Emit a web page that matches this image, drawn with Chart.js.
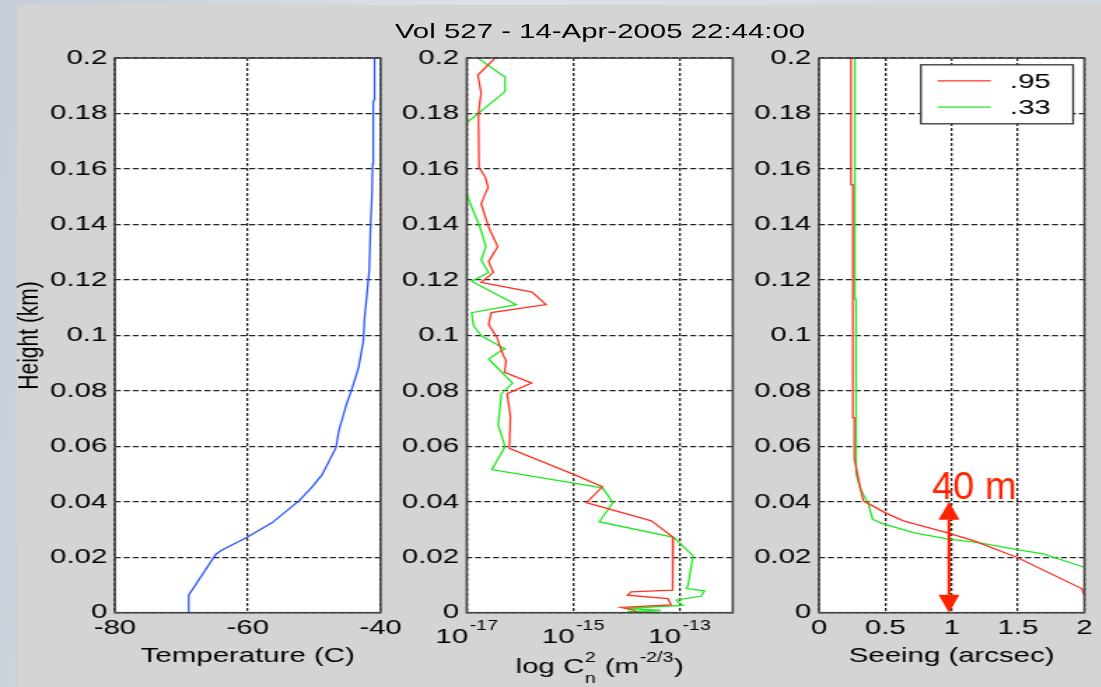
<!DOCTYPE html>
<html>
<head>
<meta charset="utf-8">
<title>Vol 527 - 14-Apr-2005 22:44:00</title>
<script src="https://cdn.jsdelivr.net/npm/chart.js@4.4.1/dist/chart.umd.min.js"></script>
<style>
  html, body { margin: 0; padding: 0; }
  body {
    width: 1101px; height: 687px; overflow: hidden; position: relative;
    background: linear-gradient(100deg, #c6cdd6 0%, #dde2e8 40%, #cfd5dc 100%);
  }
  #fig { position: absolute; left: 17px; top: 5px; width: 1084px; height: 682px; background: #d4d4d4; }
  /* the original figure is stretched sideways, so everything is drawn narrow and widened */
  #stretch { position: absolute; left: 0; top: 0; width: 787px; height: 687px; transform: scaleX(1.4); transform-origin: 0 0; }
  #stretch canvas { position: absolute; top: 40px; }
  #title {
    position: absolute; left: 228.6px; width: 400px; top: 19px; line-height: 26px;
    text-align: center; font: 21px 'Liberation Sans', Arial, sans-serif; color: #000; white-space: nowrap;
  }
</style>
</head>
<body>
<div id="fig"></div>
<div id="stretch">
  <div id="title">Vol 527 - 14-Apr-2005 22:44:00</div>
  <canvas id="tempChart" width="290" height="647" style="left:0px"></canvas>
  <canvas id="cn2Chart" width="260" height="647" style="left:280px"></canvas>
  <canvas id="seeingChart" width="257" height="647" style="left:530px"></canvas>
</div>
<script>
// temperatura (C) e altura (km)
const tempC = [-68.9, -68.9, -64.8, -64.0, -60.1, -56.3, -52.3, -50.3, -48.8, -46.7, -46.3, -45.1, -44.3, -43.3,
  -42.6, -42.4, -42.1, -41.7, -41.5, -41.3, -41.2, -41.1, -40.9, -40.9];
const tempHeight = [0, 0.0063, 0.0211, 0.0224, 0.0272, 0.0325, 0.0403, 0.0454, 0.0498, 0.0596, 0.0655, 0.0754, 0.0808, 0.0885,
  0.098, 0.1064, 0.1135, 0.1237, 0.1403, 0.150, 0.1618, 0.1844, 0.185, 0.2];

// log10 Cn2 (expoentes) e altura, .95
const cn2LogRed = [-16.47, -16.79, -16.73, -16.78, -16.77, -16.65, -16.60, -16.73, -16.59, -16.42, -16.59, -16.50, -16.73,
  -15.77, -15.51, -16.54, -16.59, -16.43, -16.37, -16.31, -16.26, -16.29, -15.78, -16.24, -16.18, -16.20, -14.98,
  -14.45, -14.75, -13.53, -13.12, -13.13, -13.91, -13.98, -13.22, -13.16, -14.10, -13.85, -13.79];
const cn2HeightRed = [0.2, 0.1939, 0.1874, 0.1802, 0.1606, 0.157, 0.1534, 0.1475, 0.1391, 0.132, 0.1266, 0.1227, 0.1191,
  0.1156, 0.1111, 0.1082, 0.104, 0.0992, 0.0957, 0.0927, 0.0909, 0.0867, 0.0828, 0.079, 0.0706, 0.0593, 0.0498,
  0.0454, 0.0397, 0.0331, 0.0272, 0.0081, 0.0075, 0.0063, 0.0051, 0.0028, 0.0019, 0.0008, 0];

// log10 Cn2 e altura, .33
const cn2LogGreen = [-16.79, -16.34, -16.28, -16.28, -16.34, -17.0, -17.0, -16.91, -16.75, -16.64, -16.73, -16.59, -16.91,
  -16.07, -16.91, -16.87, -16.72, -16.28, -16.40, -16.59, -16.14, -16.35, -16.41, -16.28, -16.53, -14.45, -14.25,
  -14.51, -13.11, -12.75, -12.84, -12.87, -12.53, -12.59, -13.06, -12.94, -14.01, -13.35, -13.98, -13.35];
const cn2HeightGreen = [0.2, 0.1939, 0.1933, 0.188, 0.187, 0.1767, 0.151, 0.1463, 0.139, 0.132, 0.1272, 0.1227, 0.1195,
  0.1111, 0.1082, 0.1034, 0.0998, 0.0951, 0.0939, 0.0915, 0.0828, 0.079, 0.0677, 0.0599, 0.0516, 0.045, 0.0397,
  0.0328, 0.0272, 0.0206, 0.0099, 0.0087, 0.0079, 0.006, 0.0045, 0.0026, 0.0016, 0.0008, 0.0004, 0];

// seeing (arcsec) e altura
const seeingRed = [0.241, 0.241, 0.255, 0.255, 0.266, 0.266, 0.29, 0.314, 0.334, 0.359, 0.497, 0.636, 0.963, 1.164, 1.49, 1.98, 2.0];
const seeingHeightRed = [0.2, 0.1544, 0.1544, 0.0703, 0.0703, 0.0557, 0.05, 0.0444, 0.0403, 0.0397, 0.0361, 0.0331, 0.0289, 0.026, 0.02, 0.0087, 0.0063];
const seeingGreen = [0.27, 0.27, 0.279, 0.279, 0.276, 0.284, 0.309, 0.372, 0.405, 0.473, 0.712, 0.963, 1.19, 1.515, 1.69, 2.0];
const seeingHeightGreen = [0.2, 0.113, 0.113, 0.065, 0.055, 0.050, 0.045, 0.0391, 0.0337, 0.0322, 0.0289, 0.0266, 0.0254, 0.0226, 0.0212, 0.0164];

const seriesLabels = ['.95', '.33'];
const heightTicks = [0, 0.02, 0.04, 0.06, 0.08, 0.1, 0.12, 0.14, 0.16, 0.18, 0.2];
const tempTicks = [-80, -60, -40];
const cn2TickExp = [-17, -15, -13];
const seeingTicks = [0, 0.5, 1, 1.5, 2];

// anotacao "40 m"
const arrowSeeing = 0.98;
const arrowHeights = [0, 0.04];
const arrowLabel = '40 m';

const STRETCH = 1.4;
const FONT = "'Liberation Sans', Arial, sans-serif";
const RED = '#ff3322', GREEN = '#22e822', BLUE = '#2a55ff';
const PAD_TOP = 13.3, X_AXIS_H = 74.3;

Chart.defaults.font.family = FONT;
Chart.defaults.color = '#000';

function pairs(xs, ys) {
  return xs.map((x, i) => ({ x: x, y: ys[i] }));
}

function lineSet(label, data, color) {
  return { label: label, data: data, borderColor: color, backgroundColor: color, borderWidth: 1.3,
    pointRadius: 0, showLine: true, tension: 0, fill: false };
}

function heightAxis(width, showTitle) {
  return {
    type: 'linear', position: 'left', min: 0, max: 0.2,
    afterBuildTicks: s => { s.ticks = heightTicks.map(v => ({ value: v })); },
    afterFit: s => { s.width = width; },
    ticks: { callback: v => String(v), font: { size: 21 }, color: '#000', padding: 5.5, autoSkip: false },
    grid: { color: '#222', lineWidth: 1.3, drawTicks: false },
    border: { display: false, dash: [4.3, 2.1] },
    title: { display: showTitle, text: 'Height (km)', font: { size: 21 }, color: '#000', padding: { top: 8.8, bottom: 0 } }
  };
}

function bottomAxis(type, min, max, tickValues, title, showTicks) {
  return {
    type: type, position: 'bottom', min: min, max: max,
    afterBuildTicks: s => { s.ticks = tickValues.map(v => ({ value: v })); },
    afterFit: s => { s.height = X_AXIS_H; },
    ticks: { display: showTicks, callback: v => String(v), font: { size: 21 }, color: '#000', padding: 3,
      maxRotation: 0, autoSkip: false },
    grid: { color: '#222', lineWidth: 1.3, drawTicks: false },
    border: { display: false, dash: [3, 2] },
    title: { display: !!title, text: title || '', font: { size: 21 }, color: '#000', padding: { top: 0, bottom: 18.4 } }
  };
}

// fundo branco da area e moldura
const plotFrame = {
  id: 'plotFrame',
  beforeDraw(chart) {
    const a = chart.chartArea, ctx = chart.ctx;
    ctx.save();
    ctx.fillStyle = '#fff';
    ctx.fillRect(a.left, a.top, a.right - a.left, a.bottom - a.top);
    ctx.restore();
  },
  afterDatasetsDraw(chart) {
    const a = chart.chartArea, ctx = chart.ctx;
    ctx.save();
    ctx.strokeStyle = '#454545';
    ctx.lineWidth = 1.6;
    ctx.strokeRect(a.left, a.top, a.right - a.left, a.bottom - a.top);
    ctx.restore();
  }
};

function baseOptions(padRight, xAxis, yAxis) {
  return {
    responsive: false, animation: false,
    layout: { padding: { top: PAD_TOP, right: padRight, left: 0, bottom: 0 } },
    plugins: { legend: { display: false }, tooltip: { enabled: false } },
    scales: { x: xAxis, y: yAxis }
  };
}

function createTempChart() {
  new Chart(document.getElementById('tempChart'), {
    type: 'scatter',
    data: { datasets: [lineSet('T', pairs(tempC, tempHeight), BLUE)] },
    options: baseOptions(17.1, bottomAxis('linear', -80, -40, tempTicks, 'Temperature (C)', true), heightAxis(82.1, true)),
    plugins: [plotFrame]
  });
}

// rotulos 10^n e titulo com sub/sobrescritos
const cn2Labels = {
  id: 'cn2Labels',
  afterDraw(chart) {
    const ctx = chart.ctx, xs = chart.scales.x, a = chart.chartArea;
    const big = '21px ' + FONT, small = '14px ' + FONT;
    ctx.save();
    ctx.fillStyle = '#000';
    ctx.textAlign = 'left';
    ctx.textBaseline = 'alphabetic';
    cn2TickExp.forEach(e => {
      const px = xs.getPixelForValue(Math.pow(10, e));
      ctx.font = big; const wb = ctx.measureText('10').width;
      ctx.font = small; const we = ctx.measureText(String(e)).width;
      const x0 = px - (wb + we + 1) / 2;
      ctx.font = big; ctx.fillText('10', x0, a.bottom + 30.3);
      ctx.font = small; ctx.fillText(String(e), x0 + wb + 1, a.bottom + 17.5);
    });

    const base = a.bottom + 60.6, sup = a.bottom + 49, sub = a.bottom + 70.5;
    ctx.font = big; const w1 = ctx.measureText('log C').width, w3 = ctx.measureText(' (m').width, w5 = ctx.measureText(')').width;
    ctx.font = small; const w2 = Math.max(ctx.measureText('2').width, ctx.measureText('n').width) + 1, w4 = ctx.measureText('-2/3').width + 1;
    let x = (a.left + a.right) / 2 - (w1 + w2 + w3 + w4 + w5) / 2;
    ctx.font = big; ctx.fillText('log C', x, base); x += w1;
    ctx.font = small; ctx.fillText('2', x + 0.5, sup); ctx.fillText('n', x + 0.5, sub); x += w2;
    ctx.font = big; ctx.fillText(' (m', x, base); x += w3;
    ctx.font = small; ctx.fillText('-2/3', x + 0.5, sup); x += w4;
    ctx.font = big; ctx.fillText(')', x, base);
    ctx.restore();
  }
};

function createCn2Chart() {
  new Chart(document.getElementById('cn2Chart'), {
    type: 'scatter',
    data: {
      datasets: [
        lineSet(seriesLabels[0], pairs(cn2LogRed.map(e => Math.pow(10, e)), cn2HeightRed), RED),
        lineSet(seriesLabels[1], pairs(cn2LogGreen.map(e => Math.pow(10, e)), cn2HeightGreen), GREEN)
      ]
    },
    options: baseOptions(16.6, bottomAxis('logarithmic', 1e-17, 1e-12, cn2TickExp.map(e => Math.pow(10, e)), null, false), heightAxis(53.4, false)),
    plugins: [plotFrame, cn2Labels]
  });
}

// legenda com caixa, como no matlab
const boxLegend = {
  id: 'boxLegend',
  afterDraw(chart) {
    const ctx = chart.ctx, a = chart.chartArea;
    const w = 108.7, h = 59, bx = a.right - 8 - w, by = a.top + 6.7;
    ctx.save();
    ctx.fillStyle = '#fff';
    ctx.fillRect(bx, by, w, h);
    ctx.strokeStyle = '#333';
    ctx.lineWidth = 1.3;
    ctx.strokeRect(bx, by, w, h);
    ctx.font = '21px ' + FONT;
    ctx.textBaseline = 'middle';
    ctx.textAlign = 'left';
    chart.data.datasets.forEach((ds, i) => {
      const y = by + 16 + i * 26.3;
      ctx.strokeStyle = ds.borderColor;
      ctx.lineWidth = 1.3;
      ctx.beginPath();
      ctx.moveTo(bx + 11.9, y);
      ctx.lineTo(bx + 50, y);
      ctx.stroke();
      ctx.fillStyle = '#000';
      ctx.fillText(ds.label, bx + 63.5, y + 1);
    });
    ctx.restore();
  }
};

// seta dupla vermelha e texto "40 m"
const heightArrow = {
  id: 'heightArrow',
  afterDraw(chart) {
    const ctx = chart.ctx, xs = chart.scales.x, ys = chart.scales.y;
    const x = xs.getPixelForValue(arrowSeeing);
    const y0 = ys.getPixelForValue(arrowHeights[0]), y1 = ys.getPixelForValue(arrowHeights[1]);
    const hw = 10.5 / STRETCH, hh = 18;
    ctx.save();
    ctx.strokeStyle = ctx.fillStyle = '#ff2200';
    ctx.lineWidth = 3 / STRETCH;
    ctx.beginPath();
    ctx.moveTo(x, y1 + hh);
    ctx.lineTo(x, y0 - hh);
    ctx.stroke();
    ctx.beginPath();
    ctx.moveTo(x, y1); ctx.lineTo(x - hw, y1 + hh); ctx.lineTo(x + hw, y1 + hh); ctx.closePath();
    ctx.moveTo(x, y0); ctx.lineTo(x - hw, y0 - hh); ctx.lineTo(x + hw, y0 - hh); ctx.closePath();
    ctx.fill();
    ctx.translate(x, y1);
    ctx.scale(1 / STRETCH, 1);
    ctx.font = '38px ' + FONT;
    ctx.textAlign = 'left';
    ctx.textBaseline = 'alphabetic';
    ctx.fillText(arrowLabel, -17, -3);
    ctx.restore();
  }
};

function createSeeingChart() {
  new Chart(document.getElementById('seeingChart'), {
    type: 'scatter',
    data: {
      datasets: [
        lineSet(seriesLabels[0], pairs(seeingRed, seeingHeightRed), RED),
        lineSet(seriesLabels[1], pairs(seeingGreen, seeingHeightGreen), GREEN)
      ]
    },
    options: baseOptions(12.5, bottomAxis('linear', 0, 2, seeingTicks, 'Seeing (arcsec)', true), heightAxis(55, false)),
    plugins: [plotFrame, boxLegend, heightArrow]
  });
}

createTempChart();
createCn2Chart();
createSeeingChart();
</script>
</body>
</html>
